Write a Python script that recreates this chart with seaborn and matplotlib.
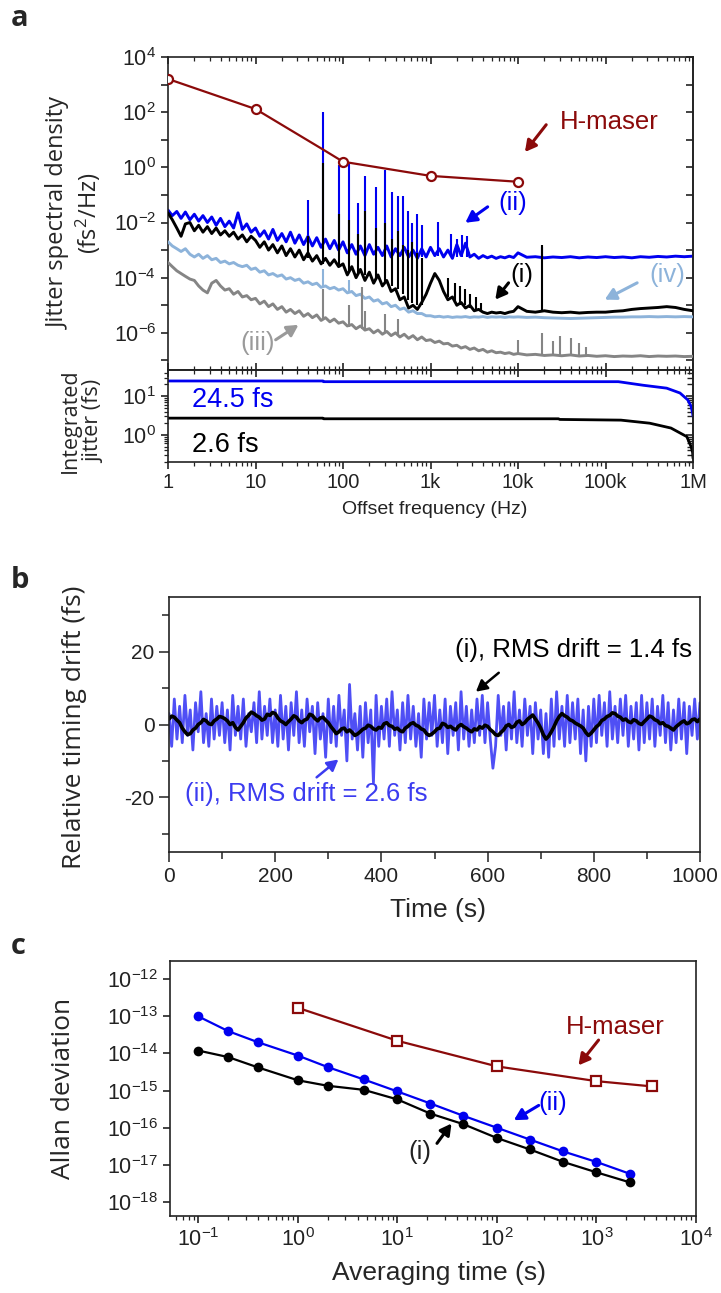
import numpy as np
import pandas as pd
import matplotlib
matplotlib.use("Agg")
import matplotlib.pyplot as plt
import matplotlib.transforms as mtransforms
import seaborn as sns

# ---------------- panel a : jitter spectral density ----------------
# shared frequency grid (Hz) and traces as log10(fs^2/Hz)
freq_hz = [
    1, 1.12, 1.26, 1.41, 1.58, 1.78, 2, 2.24, 2.51, 2.82, 3.16, 3.55, 3.98, 4.47, 5.01, 5.62, 6.31, 7.08, 7.94, 8.91,
    10, 11.2, 12.6, 14.1, 15.8, 17.8, 20, 22.4, 25.1, 28.2, 31.6, 35.5, 39.8, 44.7, 50.1, 56.2, 63.1, 70.8, 79.4, 89.1,
    100, 112, 126, 141, 158, 178, 200, 224, 251, 282, 316, 355, 398, 447, 501, 562, 631, 708, 794, 891,
    1000, 1120, 1260, 1410, 1580, 1780, 2000, 2240, 2510, 2820, 3160, 3550, 3980, 4470, 5010, 5620, 6310, 7080, 7940, 8910,
    1e4, 1.26e4, 1.58e4, 2e4, 2.51e4, 3.16e4, 3.98e4, 5.01e4, 6.31e4, 7.94e4,
    1e5, 1.26e5, 1.58e5, 2e5, 2.51e5, 3.16e5, 3.98e5, 5.01e5, 6.31e5, 7.94e5,
    1e6,
]
ii_log10 = [
    -1.55, -1.75, -1.6, -1.85, -1.62, -1.9, -1.7, -1.95, -1.75, -2.0, -1.8, -2.1, -1.85, -2.15, -1.95, -2.2, -1.65, -2.25, -2.05, -2.35,
    -2.2, -2.5, -2.3, -2.6, -2.25, -2.65, -2.4, -2.7, -2.35, -2.75, -2.45, -2.8, -2.5, -2.85, -2.55, -2.9, -2.6, -2.95, -2.65, -3.0,
    -2.7, -3.1, -2.8, -3.15, -2.85, -3.2, -2.8, -3.15, -2.9, -3.2, -2.85, -3.25, -2.95, -3.2, -2.9, -3.25, -3.0, -3.3, -2.95, -3.25,
    -2.9, -3.2, -2.95, -3.25, -3.0, -3.3, -2.8, -3.2, -2.75, -3.25, -3.15, -3.3, -3.2, -3.28, -3.22, -3.3, -3.24, -3.28, -3.22, -3.27,
    -3.1, -3.26, -3.24, -3.28, -3.25, -3.27, -3.24, -3.28, -3.25, -3.27,
    -3.24, -3.27, -3.25, -3.28, -3.24, -3.26, -3.23, -3.25, -3.22, -3.24,
    -3.22,
]
i_log10 = [
    -1.65, -1.9, -2.2, -2.5, -2.05, -2.0, -2.3, -2.1, -2.35, -2.15, -2.4, -2.2, -2.45, -2.3, -2.5, -2.35, -2.6, -2.45, -2.7, -2.5,
    -2.65, -2.9, -2.7, -3.0, -2.8, -3.1, -2.85, -3.2, -2.95, -3.25, -3.0, -3.35, -3.1, -3.4, -3.2, -3.5, -3.3, -3.55, -3.35, -3.6,
    -3.5, -3.9, -3.6, -4.0, -3.7, -4.1, -3.8, -4.2, -3.9, -4.3, -4.1, -4.5, -4.4, -4.8, -4.7, -5.1, -5.0, -5.15, -4.9, -4.6,
    -4.2, -3.85, -4.1, -4.5, -4.8, -4.7, -5.0, -4.9, -5.1, -5.0, -5.2, -5.15, -5.25, -5.3, -5.25, -5.28, -5.26, -5.3, -5.25, -5.22,
    -5.05, -5.22, -5.25, -5.2, -5.25, -5.27, -5.25, -5.28, -5.26, -5.25,
    -5.25, -5.22, -5.2, -5.15, -5.12, -5.1, -5.08, -5.05, -5.08, -5.15,
    -5.2,
]
iv_log10 = [
    -2.7, -2.85, -2.95, -3.05, -2.95, -3.15, -3.25, -3.15, -3.3, -3.2, -3.35, -3.3, -3.45, -3.4, -3.5, -3.45, -3.55, -3.6, -3.55, -3.7,
    -3.65, -3.8, -3.75, -3.9, -3.85, -3.95, -3.9, -4.05, -4.0, -4.1, -4.05, -4.2, -4.15, -4.25, -4.2, -4.35, -4.3, -4.4, -4.35, -4.45,
    -4.4, -4.55, -4.5, -4.65, -4.6, -4.75, -4.7, -4.85, -4.8, -4.95, -4.9, -5.05, -5.0, -5.15, -5.1, -5.25, -5.2, -5.3, -5.3, -5.38,
    -5.38, -5.42, -5.4, -5.43, -5.41, -5.44, -5.42, -5.43, -5.41, -5.44, -5.42, -5.43, -5.41, -5.44, -5.42, -5.43, -5.42, -5.44, -5.42, -5.43,
    -5.42, -5.44, -5.43, -5.45, -5.46, -5.47, -5.48, -5.47, -5.46, -5.45,
    -5.44, -5.43, -5.43, -5.42, -5.42, -5.41, -5.42, -5.41, -5.42, -5.41,
    -5.42,
]
iii_log10 = [
    -3.45, -3.6, -3.75, -3.85, -3.95, -4.05, -4.1, -4.3, -4.45, -4.55, -4.2, -4.1, -4.3, -4.45, -4.4, -4.6, -4.5, -4.7, -4.65, -4.8,
    -4.75, -4.95, -4.85, -5.05, -4.95, -5.15, -5.05, -5.25, -5.15, -5.3, -5.2, -5.4, -5.3, -5.45, -5.35, -5.55, -5.45, -5.6, -5.5, -5.65,
    -5.6, -5.75, -5.7, -5.85, -5.75, -5.9, -5.85, -6.0, -5.9, -6.05, -5.95, -6.1, -6.0, -6.15, -6.05, -6.2, -6.1, -6.25, -6.15, -6.28,
    -6.25, -6.35, -6.3, -6.4, -6.38, -6.48, -6.45, -6.55, -6.5, -6.6, -6.55, -6.65, -6.6, -6.7, -6.65, -6.72, -6.7, -6.75, -6.72, -6.78,
    -6.75, -6.8, -6.78, -6.82, -6.8, -6.83, -6.8, -6.84, -6.82, -6.85,
    -6.83, -6.86, -6.84, -6.85, -6.83, -6.86, -6.84, -6.85, -6.84, -6.86,
    -6.85,
]

# narrow spurs: frequency, foot and top (log10 fs^2/Hz)
ii_spur_hz = [40, 59, 90, 117, 150, 178, 240, 300, 360, 427, 490, 560, 620, 700, 800, 1230, 1700, 2000, 2300, 2600, 19000]
ii_spur_top = [-1.2, 2.0, 0.08, 0.15, -1.3, -0.3, -0.7, -0.1, -0.9, -1.05, -1.05, -1.6, -2.0, -1.7, -2.1, -1.98, -2.4, -2.6, -2.45, -2.5, -2.9]
ii_spur_foot = [-2.85, -2.95, -3.0, -3.1, -3.1, -3.1, -3.15, -3.15, -3.2, -3.2, -3.2, -3.2, -3.25, -3.25, -3.25, -3.2, -3.25, -3.25, -3.25, -3.25, -3.25]
i_spur_hz = [40, 59, 90, 117, 150, 178, 240, 300, 360, 427, 490, 560, 620, 700, 800, 1600, 1900, 2200, 2500, 2800, 3300, 3800, 19000]
i_spur_top = [-2.5, 0.15, -1.7, -1.9, -2.4, -1.6, -2.2, -2.0, -2.6, -2.3, -2.8, -3.0, -2.7, -3.1, -3.3, -4.0, -4.2, -4.3, -4.4, -4.6, -4.7, -4.9, -2.8]
i_spur_foot = [-3.3, -3.5, -3.6, -3.8, -3.9, -3.9, -4.1, -4.2, -4.3, -4.4, -4.6, -4.8, -4.9, -5.0, -5.0, -4.7, -4.9, -5.0, -5.0, -5.1, -5.15, -5.2, -5.25]
iv_spur_hz = [59, 117]
iv_spur_top = [-3.7, -4.1]
iv_spur_foot = [-4.35, -4.5]
iii_spur_hz = [59, 117, 165, 178, 300, 427, 10000, 19000, 25000, 30000, 40000, 50000, 60000]
iii_spur_top = [-4.4, -5.0, -4.35, -5.2, -5.3, -5.5, -6.25, -6.0, -6.3, -6.1, -6.2, -6.35, -6.5]
iii_spur_foot = [-5.5, -5.8, -5.85, -5.85, -6.0, -6.05, -6.75, -6.8, -6.8, -6.8, -6.82, -6.83, -6.83]

maser_a_hz = [1, 10, 60, 100, 1000, 10000]
maser_a_psd = [1600, 130, 4.3, 1.6, 0.49, 0.3]

# integrated jitter (fs)
int_ii_hz = [1, 59, 60, 140000, 150000, 270000, 500000, 710000, 870000, 950000, 990000, 1000000]
int_ii_fs = [24.5, 24.5, 23.5, 23.5, 23, 19, 16, 12, 8, 5.5, 3.6, 3.0]
int_i_hz = [1, 59, 60, 29000, 30000, 150000, 320000, 560000, 850000, 950000, 990000, 1000000]
int_i_fs = [2.7, 2.7, 2.6, 2.6, 2.5, 2.4, 2.0, 1.5, 0.9, 0.5, 0.35, 0.25]

# ---------------- panel b : relative timing drift (fs), 5 s samples ----------------
drift_ii_fs = [
    3, -6, 7, -4, 5, -5, 8, -3, 4, -7, 6, -2, 9, -5, 3, -6, 7, -4, 5, -3,
    6, -5, 4, -7, 8, -3, 5, -4, 7, -6, 3, -2, 6, -5, 9, -4, 5, -3, 7, -5,
    4, -6, 8, -4, 5, -7, 6, -3, 9, -5, 4, -6, 7, -2, 5, -8, 6, -4, 3, -9,
    7, -5, 5, -6, 8, -3, 4, -10, 11, -4, 3, -7, 5, -9, 6, -5, 4, -16, 8, -6,
    5, -4, 7, -6, 9, -3, 4, -7, 6, -5, 8, -4, 5, -6, 3, -9, 7, -4, 6, -3,
    8, -6, 4, -5, 7, -8, 5, -3, 6, -7, 9, -4, 5, -6, 4, -5, 7, -3, 8, -5,
    6, -4, -12, -6, 8, -3, 5, -7, 6, -4, 9, -5, 4, -6, 7, -3, 5, -8, 6, -4,
    4, -8, 3, -9, 7, -6, 9, -4, 5, -6, 8, -5, 6, -4, 7, -8, 4, -10, 5, -6,
    7, -5, 8, -3, 6, -6, 9, -4, 5, -5, 7, -3, 8, -6, 5, -4, 6, -7, 8, -5,
    6, -4, 7, -6, 5, -3, 8, -5, 6, -7, 4, -5, 7, -4, 6, -8, 5, -3, 7, -4, 6,
]
drift_i_fs = [
    1.5, 2.3, 2, 1.2, 0.5, -1, -2, -2.8, -2.5, -1.5, -1, 0, 0.5, 1.4, 1, 0.2, 0, 1, 1.5, 2.2,
    2, 1.6, 1, 0, 0.5, -0.8, -1.5, -0.5, 0.5, 1.8, 2.5, 3.4, 3, 2.4, 2, 1.2, 1.5, 2.8, 2.5, 3.3,
    3, 1.8, 1, 0.6, 0, 0.8, 1.5, 2.4, 2, 1, 0.5, 1.2, 1.5, 2.8, 2.5, 1.6, 1, 1.8, 2, 1.2,
    0.5, -0.6, -1.5, -2.5, -2, -1.2, -1, -2, -1.5, -2.2, -3, -2.6, -2, -1.3, -1, -0.2, -0.5, -1.2, -1.5, -0.8,
    -1, 0.2, 0.5, -0.3, -0.5, -1.3, -1, -1.7, -2, -1, -0.5, 0.2, 0.5, -0.2, -0.5, -1.2, -1.5, -2.5, -3, -2.6,
    -2, -1.2, -1, 0.3, 0, -0.8, -0.5, -1.1, -1.5, -0.5, 0, -0.6, -1, -1.6, -2, -1.2, -1.5, -0.6, -1, -0.2,
    -0.5, -1.4, -2, -2.8, -3, -2.2, -1.5, -0.4, 0, -0.8, -0.5, 0.6, 1, 0, 0.5, 1.4, 2, 2.6, 1.5, 0.4,
    -1, -2.8, -4, -3.2, -2, -0.6, 1, 2.2, 3, 2.4, 2, 1.3, 1, 0.4, 0, -0.4, -1, -2.2, -3, -2.4,
    -1.5, -0.6, 0, 1.1, 1.5, 2.2, 2.5, 3.2, 3, 2.3, 2, 1.2, 1.5, 0.8, 0.5, 1.3, 1, 0.3, 0, 0.8,
    1.5, 2.3, 2, 1.3, 1, 0.2, 0.5, -0.3, -0.5, -1, -1.5, -0.6, 0, 0.6, 1, 0.2, 0.5, 1.3, 1.5, 0.8, 1.5,
]

# ---------------- panel c : Allan deviation ----------------
tau_s = [0.1, 0.2, 0.4, 1, 2, 4.6, 10, 21.5, 46, 100, 215, 464, 1000, 2150]
adev_ii = [1e-13, 4e-14, 2e-14, 8.8e-15, 4.3e-15, 2e-15, 9.5e-16, 4.5e-16, 2.1e-16, 1e-16, 4.8e-17, 2.3e-17, 1.2e-17, 5.8e-18]
adev_i = [1.2e-14, 8e-15, 4.2e-15, 1.9e-15, 1.35e-15, 1.05e-15, 5.8e-16, 2.4e-16, 1.25e-16, 5.3e-17, 2.6e-17, 1.2e-17, 6.3e-18, 3.4e-18]
maser_tau_s = [1, 10, 100, 1000, 3600]
maser_adev = [1.7e-13, 2.2e-14, 4.5e-15, 1.8e-15, 1.3e-15]

BLUE = "#0000f0"
LBLUE = "#8db3da"
GRAY = "#858585"
MASER = "#8b0a0a"
BLUE_B = "#4f4ff5"

sns.set_theme(style="ticks")
plt.rcParams["font.family"] = ["Liberation Sans", "DejaVu Sans"]
plt.rcParams["mathtext.default"] = "regular"
plt.rcParams["axes.unicode_minus"] = False
plt.rcParams["axes.linewidth"] = 1.2
plt.rcParams["axes.edgecolor"] = "#222222"
plt.rcParams["xtick.color"] = "#222222"
plt.rcParams["ytick.color"] = "#222222"

W, H = 721, 1293
fig = plt.figure(figsize=(W / 100, H / 100), dpi=100)


def box(l, t, r, b):
    return [l / W, 1 - b / H, (r - l) / W, (b - t) / H]


def px(x, y):
    return x / W, 1 - y / H


LABEL_FONT = ["Open Sans", "DejaVu Sans"]
ARROW = dict(arrowstyle="-|>,head_length=0.55,head_width=0.3", lw=2.2, shrinkA=0, shrinkB=0)

# ---------- a (top) ----------
ax_a = fig.add_axes(box(168, 57, 693, 370))
ax_j = fig.add_axes(box(168, 370, 693, 462), sharex=ax_a)

psd = pd.DataFrame({
    "freq": freq_hz,
    "ii": 10.0 ** np.array(ii_log10),
    "i": 10.0 ** np.array(i_log10),
    "iv": 10.0 ** np.array(iv_log10),
    "iii": 10.0 ** np.array(iii_log10),
})
traces = [
    ("ii", BLUE, ii_spur_hz, ii_spur_foot, ii_spur_top, 2),
    ("iv", LBLUE, iv_spur_hz, iv_spur_foot, iv_spur_top, 3),
    ("iii", GRAY, iii_spur_hz, iii_spur_foot, iii_spur_top, 4),
    ("i", "black", i_spur_hz, i_spur_foot, i_spur_top, 5),
]
for col, color, sh, sf, st, z in traces:
    sns.lineplot(data=psd, x="freq", y=col, ax=ax_a, color=color, lw=2.1,
                 estimator=None, zorder=z)
    ax_a.vlines(sh, 10.0 ** np.array(sf), 10.0 ** np.array(st), color=color, lw=1.5, zorder=z)

sns.lineplot(x=maser_a_hz, y=maser_a_psd, ax=ax_a, color=MASER, lw=1.6, estimator=None,
             marker="o", markersize=6.5, markerfacecolor="white", markeredgecolor=MASER,
             markeredgewidth=1.6, markevery=[0, 1, 3, 4, 5], zorder=6)

ax_a.set_xscale("log")
ax_a.set_yscale("log")
ax_a.set_xlim(1, 1e6)
ax_a.set_ylim(4.5e-8, 1e4)
ax_a.set_xlabel("")
ax_a.set_ylabel("")
ytk = [10.0 ** e for e in range(-7, 5)]
ax_a.set_yticks(ytk, ["" if e % 2 else f"$10^{{{e}}}$" for e in range(-7, 5)])
ax_a.tick_params(axis="y", which="major", direction="out", length=5, width=1.2, labelsize=15.5, right=False)
ax_a.tick_params(axis="y", which="minor", direction="out", length=3, width=0.9, right=False)
ax_a.tick_params(axis="x", which="both", direction="in", top=True, bottom=True, labelbottom=False)
ax_a.tick_params(axis="x", which="major", length=5, width=1.2)
ax_a.tick_params(axis="x", which="minor", length=3, width=0.9)
sec = ax_a.secondary_yaxis("right")
sec.set_yticks(ytk)
sec.tick_params(which="both", direction="in", labelright=False)
sec.tick_params(which="major", length=5, width=1.2)
sec.tick_params(which="minor", length=3, width=0.9)

anno_a = [
    ("H-maser", MASER, (1.1e5, 44), (2.1e4, 35), (1.2e4, 3.6)),
    ("(ii)", BLUE, (8.7e3, 0.05), (4.5e3, 0.037), (2.5e3, 0.0098)),
    ("(i)", "black", (1.1e4, 1.2e-4), (7.8e3, 6.5e-5), (5.5e3, 1.6e-5)),
    ("(iv)", LBLUE, (5.1e5, 1.2e-4), (2.3e5, 6.5e-5), (9.8e4, 1.6e-5)),
]
for txt, color, tpos, tail, head in anno_a:
    ax_a.text(*tpos, txt, color=color, fontsize=18.5, ha="center", va="center", zorder=7)
    ax_a.annotate("", xy=head, xytext=tail, arrowprops=dict(ARROW, color=color), zorder=7)
ax_a.text(10.5, 4.4e-7, "(iii)", color="#9a9a9a", fontsize=18.5, ha="center", va="center", zorder=7)
ax_a.annotate("", xy=(31, 1.95e-6), xytext=(17, 5.6e-7), arrowprops=dict(ARROW, color="#9a9a9a"), zorder=7)

# ---------- a (bottom) ----------
sns.lineplot(x=int_ii_hz, y=int_ii_fs, ax=ax_j, color=BLUE, lw=2.0, estimator=None)
sns.lineplot(x=int_i_hz, y=int_i_fs, ax=ax_j, color="black", lw=2.0, estimator=None)
ax_j.set_xscale("log")
ax_j.set_yscale("log")
ax_j.set_xlim(1, 1e6)
ax_j.set_ylim(0.2, 47)
ax_j.set_xlabel("")
ax_j.set_ylabel("")
ax_j.set_yticks([1, 10], ["$10^{0}$", "$10^{1}$"])
ax_j.set_xticks([1, 10, 100, 1e3, 1e4, 1e5, 1e6], ["1", "10", "100", "1k", "10k", "100k", "1M"])
ax_j.tick_params(axis="y", which="major", direction="out", length=5, width=1.2, labelsize=15.5, right=False)
ax_j.tick_params(axis="y", which="minor", direction="out", length=3, width=0.9, right=False)
ax_j.tick_params(axis="x", which="major", direction="out", length=5, width=1.2, labelsize=14.5, pad=3)
ax_j.tick_params(axis="x", which="minor", direction="out", length=3, width=0.9)
secj = ax_j.secondary_yaxis("right")
secj.set_yticks([1, 10])
secj.tick_params(which="both", direction="in", labelright=False)
secj.tick_params(which="major", length=5, width=1.2)
secx = ax_j.secondary_xaxis("top")
secx.set_xticks([1, 10, 100, 1e3, 1e4, 1e5, 1e6])
secx.tick_params(which="both", direction="in", labeltop=False)
secx.tick_params(which="major", length=5, width=1.2)
secx.tick_params(which="minor", length=3, width=0.9)
ax_j.text(1.9, 7.9, "24.5 fs", color=BLUE, fontsize=19.5, ha="left", va="center")
ax_j.text(1.9, 0.55, "2.6 fs", color="black", fontsize=19.5, ha="left", va="center")

fig.text(*px(75, 213), "Jitter spectral density\n(fs$^2$/Hz)", rotation=90, ha="center", va="center",
         fontsize=17, family=LABEL_FONT, linespacing=1.1)
fig.text(*px(82, 421), "Integrated\njitter (fs)", rotation=90, ha="center", va="center",
         fontsize=15.5, family=LABEL_FONT, linespacing=1.1)
fig.text(*px(435, 510), "Offset frequency (Hz)", ha="center", va="center", fontsize=14, color="#222222")

# ---------- b ----------
ax_b = fig.add_axes(box(169, 597, 700, 852))
t_s = np.arange(0, 1001, 5)
drift = pd.DataFrame({"t": t_s, "ii": drift_ii_fs, "i": drift_i_fs})
sns.lineplot(data=drift, x="t", y="ii", ax=ax_b, color=BLUE_B, lw=2.0, estimator=None)
sns.lineplot(data=drift, x="t", y="i", ax=ax_b, color="black", lw=2.6, estimator=None)
ax_b.set_xlim(0, 1000)
ax_b.set_ylim(-35, 35)
ax_b.set_xlabel("")
ax_b.set_ylabel("")
ax_b.set_xticks([0, 200, 400, 600, 800, 1000])
ax_b.set_xticks([100, 300, 500, 700, 900], minor=True)
ax_b.set_yticks([-20, 0, 20])
ax_b.set_yticks([-30, -10, 10, 30], minor=True)
ax_b.tick_params(which="major", direction="out", length=7, width=1.1, labelsize=15)
ax_b.tick_params(which="minor", direction="out", length=5, width=1.1)
last = ax_b.get_xticklabels()[-1]
last.set_transform(last.get_transform() + mtransforms.ScaledTranslation(-4 / 72, 0, fig.dpi_scale_trans))
ax_b.text(985, 20.5, "(i), RMS drift = 1.4 fs", color="black", fontsize=18.5, ha="right", va="center")
ax_b.annotate("", xy=(578, 9.0), xytext=(621, 14.2), arrowprops=dict(ARROW, color="black", lw=1.8))
ax_b.text(30, -19.2, "(ii), RMS drift = 2.6 fs", color="#3c3cf0", fontsize=18.5, ha="left", va="center")
ax_b.annotate("", xy=(319, -9.6), xytext=(278, -14.5), arrowprops=dict(ARROW, color="#3c3cf0", lw=1.8))
fig.text(*px(75, 727), "Relative timing drift (fs)", rotation=90, ha="center", va="center",
         fontsize=19, family=LABEL_FONT)
fig.text(*px(438, 910), "Time (s)", ha="center", va="center", fontsize=19)

# ---------- c ----------
ax_c = fig.add_axes(box(170, 961, 696, 1216))
sns.lineplot(x=maser_tau_s, y=maser_adev, ax=ax_c, color=MASER, lw=1.6, estimator=None,
             marker="s", markersize=6.5, markerfacecolor="white", markeredgecolor=MASER, markeredgewidth=1.6)
sns.lineplot(x=tau_s, y=adev_ii, ax=ax_c, color=BLUE, lw=1.6, estimator=None,
             marker="o", markersize=7, markeredgewidth=0)
sns.lineplot(x=tau_s, y=adev_i, ax=ax_c, color="black", lw=1.6, estimator=None,
             marker="o", markersize=7, markeredgewidth=0)
ax_c.set_xscale("log")
ax_c.set_yscale("log")
ax_c.set_xlim(0.052, 1e4)
ax_c.set_ylim(4.2e-19, 3.1e-12)
ax_c.set_xlabel("")
ax_c.set_ylabel("")
ax_c.set_yticks([10.0 ** e for e in range(-18, -11)], [f"$10^{{{e}}}$" for e in range(-18, -11)])
ax_c.set_xticks([10.0 ** e for e in range(-1, 5)], [f"$10^{{{e}}}$" for e in range(-1, 5)])
ax_c.tick_params(which="major", direction="out", length=5, width=1.2, labelsize=15.5)
ax_c.tick_params(which="minor", direction="out", length=3, width=0.9)
ax_c.text(1550, 5.1e-14, "H-maser", color=MASER, fontsize=18.5, ha="center", va="center")
ax_c.annotate("", xy=(660, 4.8e-15), xytext=(1050, 2.3e-14), arrowprops=dict(ARROW, color=MASER))
ax_c.text(360, 4.6e-16, "(ii)", color=BLUE, fontsize=18.5, ha="center", va="center")
ax_c.annotate("", xy=(148, 1.6e-16), xytext=(263, 4e-16), arrowprops=dict(ARROW, color=BLUE))
ax_c.text(17, 2.2e-17, "(i)", color="#222222", fontsize=18.5, ha="center", va="center")
ax_c.annotate("", xy=(35, 1.3e-16), xytext=(25, 3.8e-17), arrowprops=dict(ARROW, color="black"))
fig.text(*px(63, 1088), "Allan deviation", rotation=90, ha="center", va="center",
         fontsize=19, family=LABEL_FONT)
fig.text(*px(439, 1273), "Averaging time (s)", ha="center", va="center", fontsize=19)

# panel letters
for letter, y in [("a", 18), ("b", 580), ("c", 946)]:
    fig.text(*px(11, y), letter, ha="left", va="center", fontsize=21, fontweight="bold",
             family=LABEL_FONT)

fig.savefig("out.png", dpi=100)
